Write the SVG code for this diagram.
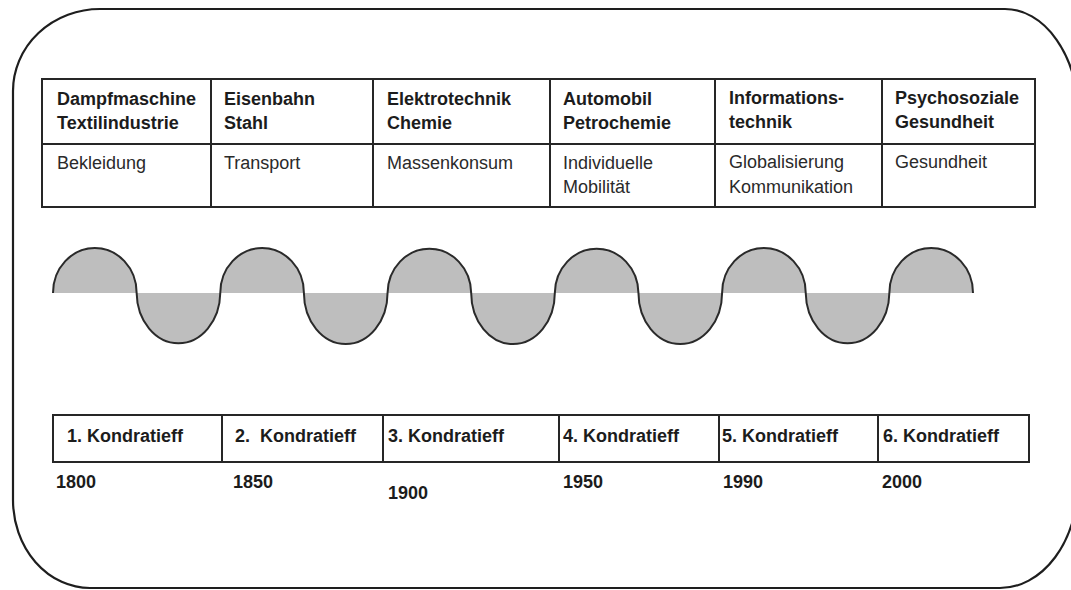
<svg xmlns="http://www.w3.org/2000/svg" width="1071" height="590" viewBox="0 0 1071 590">
  <style>
    .frame { fill: #ffffff; stroke: #1e1e1e; stroke-width: 2.2; }
    .grid { fill: none; stroke: #262626; stroke-width: 2; }
    .head { font-family: "Liberation Sans", Arial, sans-serif; font-size: 18px; font-weight: bold; fill: #1c1c1c; }
    .body { font-family: "Liberation Sans", Arial, sans-serif; font-size: 18px; fill: #2a2a2a; }
    .wave { fill: #bebebe; stroke: #2a2a2a; stroke-width: 2; }
  </style>

  <rect width="1071" height="590" fill="#ffffff"/>

  <!-- outer rounded frame; its right side runs just past the canvas edge -->
  <path class="frame" d="M100 9 H1005 A73 105 0 0 1 1078 114 V483 A78 105 0 0 1 1000 588 H90 A77 88 0 0 1 13 500 V91 A87 82 0 0 1 100 9 Z"/>

  <!-- upper table: key technologies and fields of demand -->
  <g id="tech-table">
    <rect class="grid" x="42" y="79" width="993" height="128"/>
    <path class="grid" d="M42 144 H1035 M211 79 V207 M373 79 V207 M550 79 V207 M715 79 V207 M882 79 V207"/>
  </g>
  <g id="cycle1-tech">
    <text class="head" x="57" y="105">Dampfmaschine</text>
    <text class="head" x="57" y="129">Textilindustrie</text>
    <text class="body" x="57" y="169">Bekleidung</text>
  </g>
  <g id="cycle2-tech">
    <text class="head" x="224" y="105">Eisenbahn</text>
    <text class="head" x="224" y="129">Stahl</text>
    <text class="body" x="224" y="169">Transport</text>
  </g>
  <g id="cycle3-tech">
    <text class="head" x="387" y="105">Elektrotechnik</text>
    <text class="head" x="387" y="129">Chemie</text>
    <text class="body" x="387" y="169">Massenkonsum</text>
  </g>
  <g id="cycle4-tech">
    <text class="head" x="563" y="105">Automobil</text>
    <text class="head" x="563" y="129">Petrochemie</text>
    <text class="body" x="563" y="169">Individuelle</text>
    <text class="body" x="563" y="193">Mobilität</text>
  </g>
  <g id="cycle5-tech">
    <text class="head" x="729" y="104">Informations-</text>
    <text class="head" x="729" y="128">technik</text>
    <text class="body" x="729" y="168">Globalisierung</text>
    <text class="body" x="729" y="193">Kommunikation</text>
  </g>
  <g id="cycle6-tech">
    <text class="head" x="895" y="104">Psychosoziale</text>
    <text class="head" x="895" y="128">Gesundheit</text>
    <text class="body" x="895" y="168">Gesundheit</text>
  </g>

  <!-- long waves: alternating half-ellipses -->
  <g id="waves">
    <path class="wave" d="M53 293
      A41.82 45 0 0 1 136.64 293 A41.82 51 0 0 0 220.27 293
      A41.82 45 0 0 1 303.91 293 A41.82 51 0 0 0 387.55 293
      A41.82 45 0 0 1 471.18 293 A41.82 51 0 0 0 554.82 293
      A41.82 45 0 0 1 638.45 293 A41.82 51 0 0 0 722.09 293
      A41.82 45 0 0 1 805.73 293 A41.82 51 0 0 0 889.36 293
      A41.82 45 0 0 1 973 293"/>
  </g>

  <!-- lower table: cycle numbers -->
  <g id="cycle-table">
    <rect class="grid" x="53" y="415" width="976" height="47"/>
    <path class="grid" d="M222 415 V462 M383 415 V462 M559 415 V462 M719 415 V462 M878 415 V462"/>
  </g>
  <g id="cycle1">
    <text class="head" x="67" y="442">1. Kondratieff</text>
    <text class="head" x="56" y="488">1800</text>
  </g>
  <g id="cycle2">
    <text class="head" x="235" y="442" xml:space="preserve">2.  Kondratieff</text>
    <text class="head" x="233" y="488">1850</text>
  </g>
  <g id="cycle3">
    <text class="head" x="388" y="442">3. Kondratieff</text>
    <text class="head" x="388" y="499">1900</text>
  </g>
  <g id="cycle4">
    <text class="head" x="563" y="442">4. Kondratieff</text>
    <text class="head" x="563" y="488">1950</text>
  </g>
  <g id="cycle5">
    <text class="head" x="722" y="442">5. Kondratieff</text>
    <text class="head" x="723" y="488">1990</text>
  </g>
  <g id="cycle6">
    <text class="head" x="883" y="442">6. Kondratieff</text>
    <text class="head" x="882" y="488">2000</text>
  </g>
</svg>
